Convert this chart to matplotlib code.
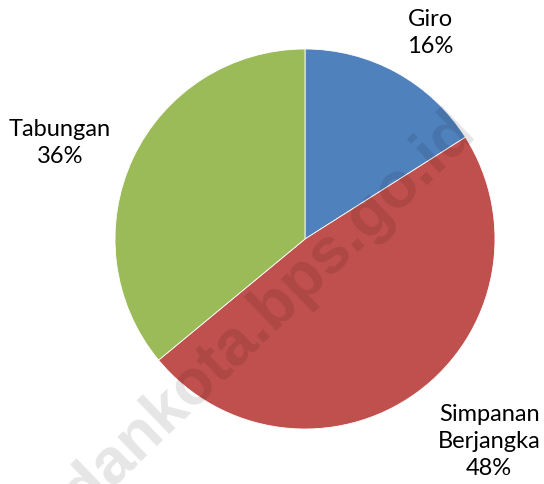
import matplotlib
matplotlib.use("Agg")
import matplotlib.pyplot as plt

# data
categories = ["Giro", "Simpanan\nBerjangka", "Tabungan"]
shares = [16, 48, 36]
colors = ["#4F81BD", "#C0504D", "#9BBB59"]

# label centres in pie units (radius = 1)
label_pos = [(0.66, 1.09), (0.97, -1.06), (-1.29, 0.51)]

W, H = 544, 485
cx, cy, r = 305, 240, 190   # pie centre/radius in pixels

fig = plt.figure(figsize=(W / 100, H / 100), dpi=100)
ax = fig.add_axes([0, 0, 1, 1])

ax.pie(shares,
       colors=colors,
       startangle=90,
       counterclock=False,
       wedgeprops=dict(edgecolor="white", linewidth=0.6))

ax.set_aspect("auto")
ax.set_xlim(-cx / r, (W - cx) / r)
ax.set_ylim(-(H - cy) / r, cy / r)
ax.axis("off")

for name, val, (x, y) in zip(categories, shares, label_pos):
    ax.text(x, y, f"{name}\n{val}%",
            ha="center", va="center",
            fontsize=17, family="Lato",
            linespacing=1.35, color="black")

# watermark
ax.text(0.905, 0.563, "medankota.bps.go.id",
        ha="right", va="baseline", rotation=44,
        rotation_mode="anchor",
        fontsize=46, fontweight="bold", family="Liberation Sans",
        color="black", alpha=0.1, zorder=5)

fig.savefig("out.png", dpi=100)
